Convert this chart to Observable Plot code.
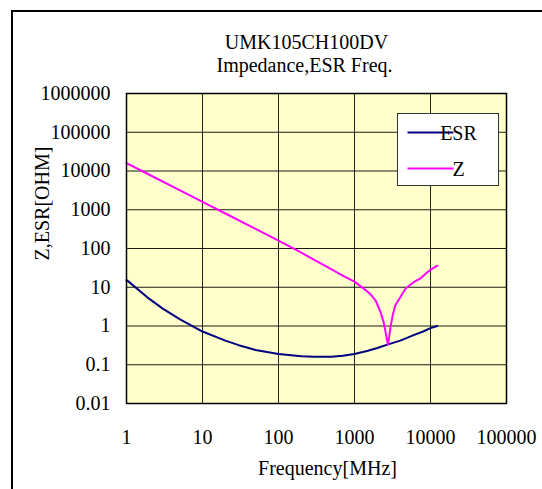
<!DOCTYPE html>
<html>
<head>
<meta charset="utf-8">
<script src="https://cdn.jsdelivr.net/npm/d3@7"></script>
<script src="https://cdn.jsdelivr.net/npm/@observablehq/plot@0.6"></script>
<style>
  html, body { margin: 0; padding: 0; background: #fff; }
  #wrap { position: relative; width: 542px; height: 489px; overflow: hidden; }
  #outer { position: absolute; left: 11px; top: 10px; width: 600px; height: 600px;
           border-left: 2px solid #000; border-top: 2px solid #000; pointer-events: none; }
  svg text { font-family: "Liberation Serif", "Times New Roman", Tinos, "DejaVu Serif", serif !important; }
</style>
</head>
<body>
<div id="wrap"><div id="outer"></div></div>
<script>
// ---- data ----
const titleLines = ["UMK105CH100DV", "Impedance,ESR Freq."];
const xLabel = "Frequency[MHz]";
const yLabel = "Z,ESR[OHM]";
const xTicks = [1, 10, 100, 1000, 10000, 100000];
const yTicks = [0.01, 0.1, 1, 10, 100, 1000, 10000, 100000, 1000000];

const esrFreq = [1, 2, 3, 5, 10, 20, 30, 50, 100, 200, 300, 500, 700, 1000, 1500, 2000, 2700, 4000, 6000, 8000, 10000, 12300];
const esrVal  = [15.5, 5.0, 2.8, 1.5, 0.72, 0.42, 0.32, 0.24, 0.19, 0.165, 0.16, 0.16, 0.17, 0.19, 0.23, 0.27, 0.33, 0.42, 0.58, 0.72, 0.88, 1.0];

const zFreq = [1, 2, 5, 10, 20, 50, 100, 200, 300, 500, 700, 1000, 1300, 1600, 1900, 2200, 2430, 2600, 2750, 2850, 2980, 3200, 3460, 4000, 4700, 6000, 7400, 9000, 10000, 12300];
const zVal  = [16000, 8000, 3200, 1600, 800, 320, 160, 78, 50, 29, 20, 14, 9.5, 6.8, 4.5, 2.3, 1.2, 0.6, 0.33, 0.5, 0.95, 2.0, 3.5, 5.5, 9.3, 13.5, 17, 24, 28, 36];

const seriesNames = ["ESR", "Z"];
const seriesColors = ["#000080", "#FF00FF"];

const esr = esrFreq.map((f, i) => ({f, v: esrVal[i]}));
const z = zFreq.map((f, i) => ({f, v: zVal[i]}));

const font = "Liberation Serif, Times New Roman, Tinos, DejaVu Serif, serif";

const chart = Plot.plot({
  width: 542, height: 489,
  marginLeft: 126, marginRight: 36, marginTop: 93, marginBottom: 86,
  style: {fontFamily: font, fontSize: "20px", background: "transparent", color: "#000"},
  x: {type: "log", domain: [1, 100000]},
  y: {type: "log", domain: [0.01, 1000000]},
  marks: [
    Plot.frame({fill: "#FFFFCC", stroke: null}),
    Plot.gridX(xTicks, {stroke: "#000", strokeOpacity: 0.85, strokeWidth: 1}),
    Plot.gridY(yTicks, {stroke: "#000", strokeOpacity: 0.9, strokeWidth: 1}),
    Plot.line(esr, {x: "f", y: "v", stroke: seriesColors[0], strokeWidth: 2}),
    Plot.line(z, {x: "f", y: "v", stroke: seriesColors[1], strokeWidth: 2}),
    Plot.frame({stroke: "#000", strokeWidth: 1.5}),
    Plot.axisX(xTicks, {tickSize: 0, tickPadding: 26, tickFormat: d => String(d), label: null, fontSize: 20}),
    Plot.axisY(yTicks, {tickSize: 0, tickPadding: 16, tickFormat: d => String(d), label: null, fontSize: 20}),
    Plot.text([titleLines[0]], {frameAnchor: "top", text: d => d, dx: -10, dy: -51, lineAnchor: "middle", fontSize: 20}),
    Plot.text([titleLines[1]], {frameAnchor: "top", text: d => d, dx: -12, dy: -28, lineAnchor: "middle", fontSize: 20}),
    Plot.text([xLabel], {frameAnchor: "bottom", text: d => d, dx: 11, dy: 65, lineAnchor: "middle", fontSize: 20}),
    Plot.text([yLabel], {frameAnchor: "left", text: d => d, dx: -84, dy: 12, rotate: -90, lineAnchor: "middle", fontSize: 20})
  ]
});

document.getElementById("wrap").prepend(chart);
chart.style.position = "absolute";
chart.style.left = "0";
chart.style.top = "0";

// legend box
const svg = d3.select(chart);
const lg = svg.append("g").attr("transform", "translate(397.5,113.5)");
lg.append("rect").attr("width", 101).attr("height", 72).attr("fill", "#fff").attr("stroke", "#333").attr("stroke-width", 1);
seriesNames.forEach((name, i) => {
  const yy = i === 0 ? 19 : 55;
  lg.append("line").attr("x1", 10).attr("x2", 56).attr("y1", yy).attr("y2", yy)
    .attr("stroke", seriesColors[i]).attr("stroke-width", 2);
  lg.append("text").attr("x", 61).attr("y", yy).attr("dy", "0.35em")
    .attr("font-size", 20).attr("fill", "#000").text(name);
});
</script>
</body>
</html>
